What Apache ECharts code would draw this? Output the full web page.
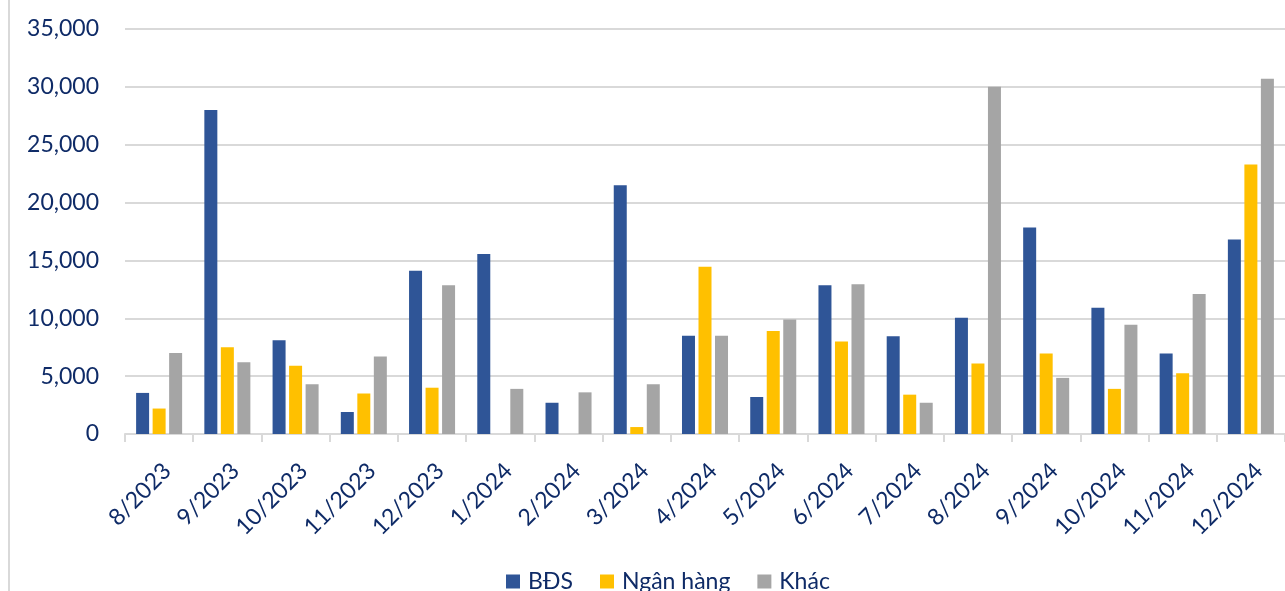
<!DOCTYPE html>
<html>
<head>
<meta charset="utf-8">
<script src="https://cdn.jsdelivr.net/npm/echarts@6/dist/echarts.min.js"></script>
<style>
  html, body { margin: 0; padding: 0; background: #ffffff; }
  #chart { width: 1285px; height: 591px; }
</style>
</head>
<body>
<div id="chart"></div>
<script>
// Monthly values by sector
const months = ['8/2023', '9/2023', '10/2023', '11/2023', '12/2023', '1/2024', '2/2024', '3/2024',
  '4/2024', '5/2024', '6/2024', '7/2024', '8/2024', '9/2024', '10/2024', '11/2024', '12/2024'];
const seriesNames = ['BĐS', 'Ngân hàng', 'Khác'];
const bds      = [3550, 28000, 8100, 1900, 14100, 15550, 2700, 21500, 8500, 3200, 12850, 8450, 10050, 17850, 10900, 6950, 16800];
const nganHang = [2200, 7500, 5900, 3500, 4000, 0, 0, 600, 14450, 8900, 8000, 3400, 6100, 6950, 3900, 5250, 23300];
const khac     = [7000, 6200, 4300, 6700, 12850, 3900, 3600, 4300, 8500, 9900, 12950, 2700, 30000, 4850, 9450, 12100, 30700];
const yTicks = { min: 0, max: 35000, interval: 5000 };

const colors = ['#2F5597', '#FFC000', '#A5A5A5'];
const textColor = '#0F2B67';
const fontFamily = 'Lato, "Liberation Sans", sans-serif';
const gridColor = '#D9D9D9';

const chart = echarts.init(document.getElementById('chart'), null, { renderer: 'canvas' });

const barSeries = [bds, nganHang, khac].map((values, i) => ({
  name: seriesNames[i],
  type: 'bar',
  data: values,
  barWidth: 13,
  barGap: '27%',
  itemStyle: { color: colors[i] }
}));

chart.setOption({
  animation: false,
  textStyle: { fontFamily: fontFamily },
  grid: { left: 125, right: 0, top: 29, bottom: 157 },
  legend: {
    data: seriesNames,
    left: 501,
    top: 565,
    icon: 'rect',
    itemWidth: 14,
    itemHeight: 14,
    itemGap: 27,
    textStyle: { color: textColor, fontSize: 23, fontFamily: fontFamily, padding: [0, 0, 0, 3] }
  },
  xAxis: {
    type: 'category',
    data: months,
    axisLine: { lineStyle: { color: gridColor, width: 2 } },
    axisTick: { show: true, length: 8, lineStyle: { color: gridColor, width: 2 } },
    axisLabel: {
      rotate: 45,
      align: 'right',
      verticalAlign: 'top',
      margin: 25,
      interval: 0,
      color: textColor,
      fontSize: 23,
      fontFamily: fontFamily
    }
  },
  yAxis: {
    type: 'value',
    min: yTicks.min,
    max: yTicks.max,
    interval: yTicks.interval,
    axisLine: { show: false },
    axisTick: { show: false },
    splitLine: { lineStyle: { color: gridColor, width: 2 } },
    axisLabel: {
      margin: 26,
      color: textColor,
      fontSize: 23,
      fontFamily: fontFamily,
      formatter: v => v.toLocaleString('en-US')
    }
  },
  graphic: [{
    type: 'line',
    shape: { x1: 9, y1: 0, x2: 9, y2: 591 },
    style: { stroke: gridColor, lineWidth: 2 },
    silent: true
  }],
  series: barSeries
});
</script>
</body>
</html>
